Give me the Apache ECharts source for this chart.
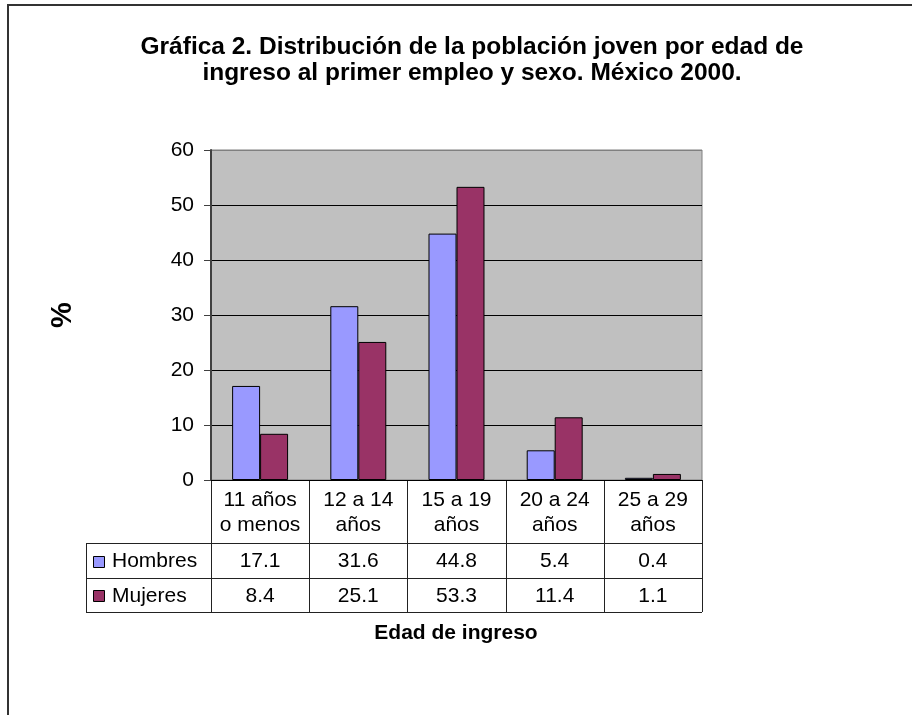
<!DOCTYPE html>
<html>
<head>
<meta charset="utf-8">
<script src="https://cdn.jsdelivr.net/npm/echarts@6/dist/echarts.min.js"></script>
<style>
  html, body { margin: 0; padding: 0; background: #fff; }
  #chart { width: 912px; height: 715px; }
</style>
</head>
<body>
<div id="chart"></div>
<script>
// datos de la gráfica
var categorias = ['11 años\no menos', '12 a 14\naños', '15 a 19\naños', '20 a 24\naños', '25 a 29\naños'];
var hombres = [17.1, 31.6, 44.8, 5.4, 0.4];
var mujeres = [8.4, 25.1, 53.3, 11.4, 1.1];
var series = ['Hombres', 'Mujeres'];
var colores = ['#9999FF', '#993366'];

var FONT = '"Liberation Sans", Arial, sans-serif';
var gLeft = 211, gTop = 150, gW = 491, gH = 330;

var myChart = echarts.init(document.getElementById('chart'));

var option = {
    animation: false,
    backgroundColor: '#fff',
    textStyle: { fontFamily: FONT },
    title: {
        text: 'Gráfica 2. Distribución de la población joven por edad de\ningreso al primer empleo y sexo. México 2000.',
        left: 467,
        top: 29,
        textAlign: 'center',
        textStyle: { fontFamily: FONT, fontSize: 24.5, fontWeight: 'bold', color: '#000', lineHeight: 26 }
    },
    grid: {
        left: gLeft, top: gTop, width: gW, height: gH,
        show: true, backgroundColor: '#C0C0C0', borderColor: '#808080', borderWidth: 1
    },
    xAxis: {
        type: 'category',
        data: categorias,
        axisLine: { lineStyle: { color: '#000', width: 1 } },
        axisTick: { show: false },
        axisLabel: { show: false }
    },
    yAxis: {
        type: 'value',
        min: 0, max: 60, interval: 10,
        name: '%',
        nameLocation: 'middle',
        nameGap: 134,
        nameRotate: 90,
        nameTextStyle: { fontFamily: FONT, fontSize: 29, fontWeight: 'bold', color: '#000' },
        axisLine: { show: true, lineStyle: { color: '#404040', width: 2 } },
        axisTick: { show: true, length: 7, lineStyle: { color: '#404040' } },
        axisLabel: { fontFamily: FONT, fontSize: 21, color: '#000', margin: 17 },
        splitLine: { show: true, lineStyle: { color: ['#000', '#000', '#000', '#000', '#000', '#000', '#808080'], width: 1 } }
    },
    series: [{
        name: series[0], type: 'bar', data: hombres,
        barGap: '0%', barCategoryGap: '43%',
        itemStyle: { color: colores[0], borderColor: '#000', borderWidth: 1 }
    }, {
        name: series[1], type: 'bar', data: mujeres,
        barGap: '0%', barCategoryGap: '43%',
        itemStyle: { color: colores[1], borderColor: '#000', borderWidth: 1 }
    }]
};
myChart.setOption(option);

// tabla de datos bajo el eje
var colW = gW / categorias.length;
var yAxisBottom = gTop + gH;
var rowY = [yAxisBottom, 543, 578, 612];
var tLeft = 86, tRight = gLeft + gW;
var lineStyle = { stroke: '#222', lineWidth: 1 };
var g = [];

// marco exterior
g.push({ type: 'polyline', shape: { points: [[8, 715], [8, 5], [912, 5]] }, style: { stroke: '#333', lineWidth: 2, fill: null } });

for (var i = 0; i <= categorias.length; i++) {
    var x = Math.round(gLeft + i * colW) + 0.5;
    g.push({ type: 'line', shape: { x1: x, y1: rowY[0], x2: x, y2: rowY[3] }, style: lineStyle });
}
for (var r = 1; r < rowY.length; r++) {
    g.push({ type: 'line', shape: { x1: tLeft, y1: rowY[r] + 0.5, x2: tRight, y2: rowY[r] + 0.5 }, style: lineStyle });
}
g.push({ type: 'line', shape: { x1: tLeft + 0.5, y1: rowY[1], x2: tLeft + 0.5, y2: rowY[3] }, style: lineStyle });

var valores = [hombres, mujeres];
categorias.forEach(function (c, i) {
    var cx = myChart.convertToPixel({ xAxisIndex: 0 }, i);
    g.push({ type: 'text', x: cx, y: (rowY[0] + rowY[1]) / 2 + 1,
        style: { text: c, fontFamily: FONT, fontSize: 21, fill: '#000', align: 'center', verticalAlign: 'middle', lineHeight: 25 } });
    valores.forEach(function (arr, s) {
        g.push({ type: 'text', x: cx, y: (rowY[s + 1] + rowY[s + 2]) / 2 + 1,
            style: { text: String(arr[i]), fontFamily: FONT, fontSize: 21, fill: '#000', align: 'center', verticalAlign: 'middle' } });
    });
});
series.forEach(function (name, s) {
    var cy = (rowY[s + 1] + rowY[s + 2]) / 2 + 1;
    g.push({ type: 'rect', shape: { x: 93.5, y: Math.round(cy - 6) + 0.5, width: 11, height: 11 },
        style: { fill: colores[s], stroke: '#000', lineWidth: 1 } });
    g.push({ type: 'text', x: 112, y: cy,
        style: { text: name, fontFamily: FONT, fontSize: 21, fill: '#000', align: 'left', verticalAlign: 'middle' } });
});
g.push({ type: 'text', x: 456, y: 633,
    style: { text: 'Edad de ingreso', fontFamily: FONT, fontSize: 21, fontWeight: 'bold', fill: '#000', align: 'center', verticalAlign: 'middle' } });

myChart.setOption({ graphic: g });
</script>
</body>
</html>
